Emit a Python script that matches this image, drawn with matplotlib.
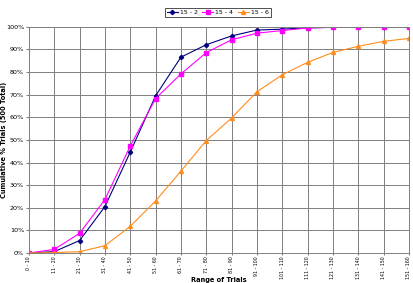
import matplotlib
matplotlib.use("Agg")
import matplotlib.pyplot as plt
from matplotlib.ticker import PercentFormatter

# category ranges on the x axis
ranges = ["0 - 10", "11 - 20", "21 - 30", "31 - 40", "41 - 50", "51 - 60",
          "61 - 70", "71 - 80", "81 - 90", "91 - 100", "101 - 110",
          "111 - 120", "121 - 130", "131 - 140", "141 - 150", "151 - 160"]

# cumulative % of trials
s15_2 = [0, 0.6, 5.5, 20.5, 44.6, 69.5, 86.6, 92.1, 96.0, 98.6, 99.0,
         99.6, 99.8, 100, 100, 100]
s15_4 = [0, 1.6, 8.7, 23.6, 47.3, 68.3, 79.2, 88.6, 94.3, 97.2, 98.4,
         99.5, 99.8, 100, 100, 100]
s15_6 = [0, 0.2, 0.6, 3.2, 11.8, 23.0, 36.2, 49.7, 59.7, 71.3, 78.8,
         84.3, 88.7, 91.4, 93.6, 94.9]

fig = plt.figure(figsize=(4.13, 2.83), dpi=100)
ax = fig.add_axes([0.070, 0.106, 0.920, 0.799])

x = list(range(len(ranges)))
ax.plot(x, s15_2, color="#000080", marker="D", markersize=2.2, linewidth=0.8, label="15 - 2")
ax.plot(x, s15_4, color="#FF00FF", marker="s", markersize=3, linewidth=0.8, label="15 - 4")
ax.plot(x, s15_6, color="#FF8C1A", marker="^", markersize=2.8, linewidth=0.8, label="15 - 6")

ax.set_xlim(0, len(ranges) - 1)
ax.set_ylim(0, 100)
ax.set_yticks(range(0, 101, 10))
ax.yaxis.set_major_formatter(PercentFormatter(decimals=0))
ax.set_xticks(x)
ax.set_xticklabels(ranges, rotation=90, fontsize=3.4)
ax.tick_params(axis="y", labelsize=4.6, length=2, color="#808080", pad=1.5)
ax.tick_params(axis="x", length=1.5, color="#808080", pad=1)

ax.grid(True, color="#808080", linewidth=0.7)
ax.set_axisbelow(True)
for sp in ax.spines.values():
    sp.set_color("#808080")
    sp.set_linewidth(0.7)

ax.set_ylabel("Cumulative % Trials (500 Total)", fontsize=4.8, fontweight="bold")
ax.yaxis.set_label_coords(-0.058, 0.5)
fig.text(0.53, 0.0, "Range of Trials", fontsize=4.8, fontweight="bold",
         ha="center", va="bottom")

leg = fig.legend(loc="center", bbox_to_anchor=(0.527, 0.957), ncol=3, fontsize=4.5,
                 frameon=True, fancybox=False, edgecolor="black",
                 handlelength=1.8, columnspacing=0.7, handletextpad=0.3,
                 borderpad=0.3)
leg.get_frame().set_linewidth(0.6)

fig.savefig("out.png", dpi=100)
